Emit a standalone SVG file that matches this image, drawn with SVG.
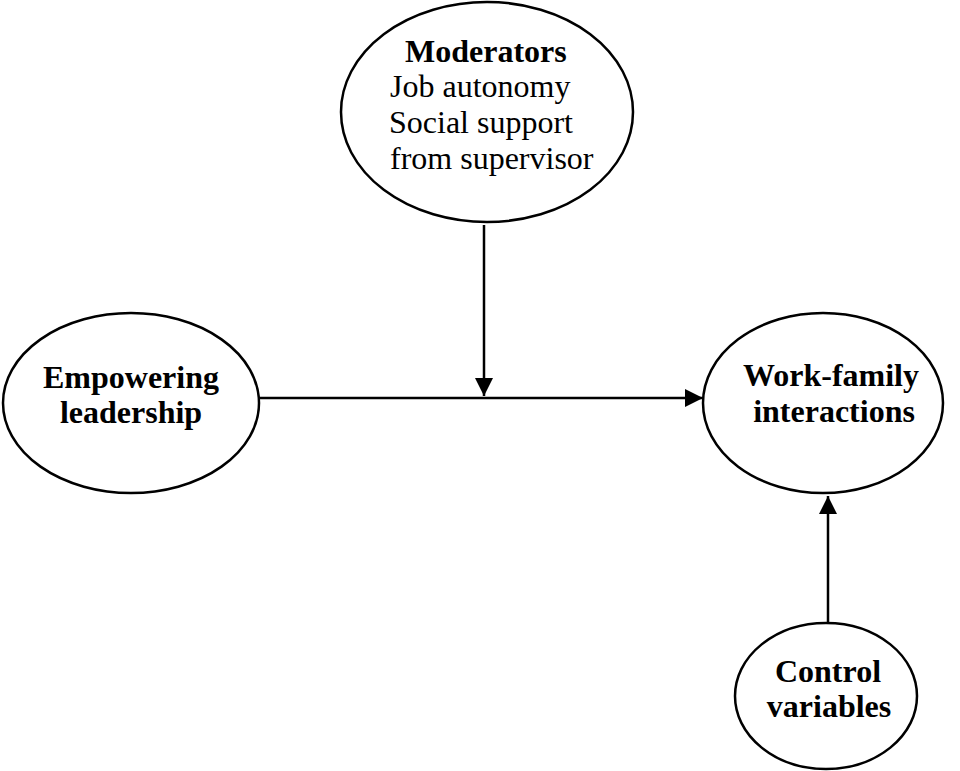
<svg xmlns="http://www.w3.org/2000/svg" width="960" height="771" viewBox="0 0 960 771">
<style>
.n{fill:#fff;stroke:#000;stroke-width:2.5}
.c{stroke:#000;stroke-width:2.5;fill:none}
text{font-family:"Liberation Serif","Times New Roman",serif;font-size:32px;fill:#000}
.b{font-weight:bold}
</style>
<defs>
<marker id="ah" markerUnits="userSpaceOnUse" markerWidth="18" markerHeight="18" viewBox="0 0 16 16" refX="16" refY="8" orient="auto">
<path d="M0,0 L16,8 L0,16 Z" fill="#000"/>
</marker>
</defs>
<rect width="960" height="771" fill="#fff"/>
<g id="connectors">
<line class="c" x1="259" y1="398" x2="703" y2="398" marker-end="url(#ah)"/>
<line class="c" x1="484" y1="225" x2="484" y2="396" marker-end="url(#ah)"/>
<line class="c" x1="828" y1="623" x2="828" y2="496" marker-end="url(#ah)"/>
</g>
<g id="moderators">
<ellipse class="n" cx="487" cy="112" rx="146" ry="110"/>
<text class="b" x="405" y="62">Moderators</text>
<text x="390" y="97">Job autonomy</text>
<text x="389" y="133">Social support</text>
<text x="390" y="169">from supervisor</text>
</g>
<g id="empowering">
<ellipse class="n" cx="131" cy="403" rx="128" ry="90"/>
<text class="b" x="131" y="388" text-anchor="middle">Empowering</text>
<text class="b" x="131" y="423" text-anchor="middle">leadership</text>
</g>
<g id="workfamily">
<ellipse class="n" cx="823" cy="403" rx="120" ry="90"/>
<text class="b" x="831" y="386" text-anchor="middle">Work-family</text>
<text class="b" x="834" y="422" text-anchor="middle">interactions</text>
</g>
<g id="control">
<ellipse class="n" cx="826" cy="696" rx="91" ry="73"/>
<text class="b" x="828" y="682" text-anchor="middle">Control</text>
<text class="b" x="829" y="717" text-anchor="middle">variables</text>
</g>
</svg>
